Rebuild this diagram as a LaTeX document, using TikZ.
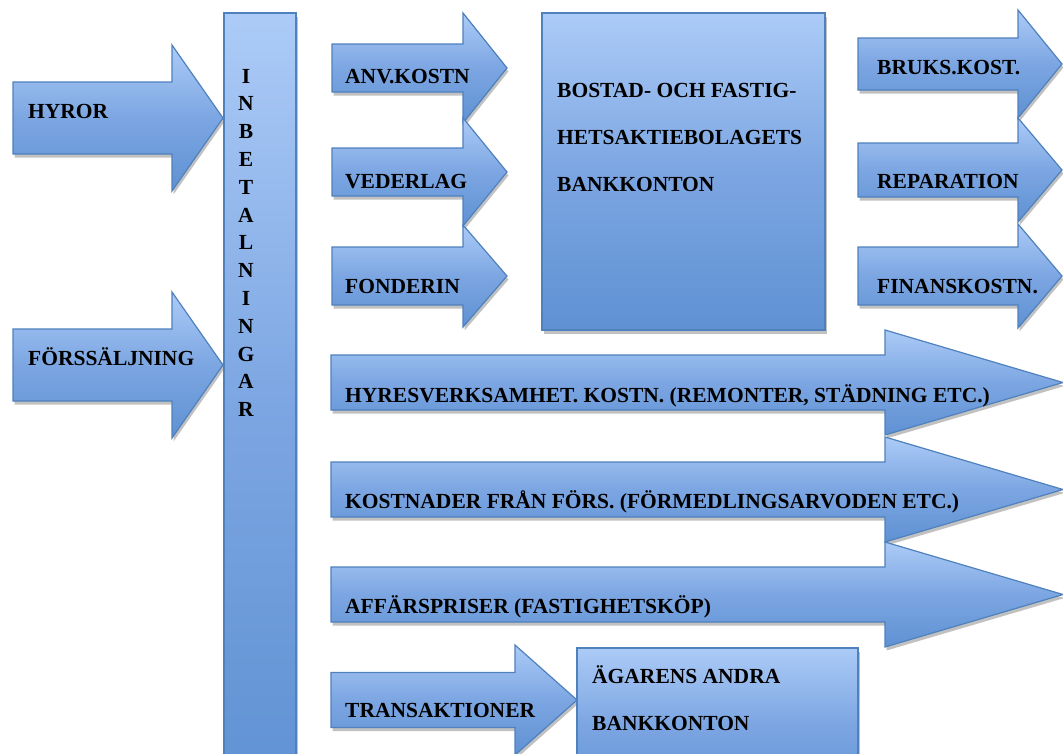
\documentclass[tikz,border=0pt]{standalone}
\usepackage{fontspec}
\setmainfont{Liberation Serif}
\usepackage{xcolor}
\usepackage{tikz}
\usetikzlibrary{shadows}

\definecolor{boxtop}{RGB}{172,203,247}
\definecolor{boxmid}{RGB}{124,166,226}
\definecolor{boxbot}{RGB}{95,145,211}
\definecolor{boxline}{RGB}{79,129,189}

\tikzset{
  blockfill/.style={draw=boxline, line width=1.2pt, line join=miter,
    top color=boxtop, bottom color=boxbot, middle color=boxmid,
    drop shadow={shadow xshift=1.5pt, shadow yshift=-3.5pt, opacity=.4, fill=black!60}},
  lbl/.style={font=\fontsize{21.5}{24}\selectfont\bfseries, inner sep=0pt, anchor=base west},
}

% block arrow: x left, x head start, x tip, y middle, half shaft, half head
\newcommand{\flowarrow}[6]{%
  \path[blockfill] (#1,#4-#5) -- (#2,#4-#5) -- (#2,#4-#6) -- (#3,#4)
    -- (#2,#4+#6) -- (#2,#4+#5) -- (#1,#4+#5) -- cycle;}

\begin{document}
\begin{tikzpicture}[x=1pt,y=-1pt]
\useasboundingbox (0,0) rectangle (1063,753);
\clip (0,0) rectangle (1063,753);
\fill[white] (0,0) rectangle (1063,753);

% incoming
\flowarrow{13}{172}{223}{118}{36}{73}
\flowarrow{13}{172}{223}{365}{36}{73}
\node[lbl] (hyror) at (28,118) {HYROR};
\node[lbl] (forss) at (28,365) {FÖRSSÄLJNING};

% column
\path[blockfill] (224,13) rectangle (296,800);
\foreach \l [count=\i] in {I,N,B,E,T,A,L,N,I,N,G,A,R}
  \node[lbl, anchor=base] (inb\i) at (246,{55.2+27.8*\i}) {\l};

% to the bank account
\flowarrow{332}{463}{507}{68}{24}{55}
\flowarrow{332}{463}{507}{172}{24}{54}
\flowarrow{332}{463}{507}{276}{29}{51}
\node[lbl] (anvkostn) at (345,83) {ANV.KOSTN};
\node[lbl] (vederlag) at (345,188) {VEDERLAG};
\node[lbl] (fonderin) at (345,293) {FONDERIN};

\path[blockfill] (542,13) rectangle (825,330);
\node[lbl] (bostad1) at (557,97) {BOSTAD- OCH FASTIG-};
\node[lbl] (bostad2) at (557,144) {HETSAKTIEBOLAGETS};
\node[lbl] (bostad3) at (557,191) {BANKKONTON};

% outgoing
\flowarrow{858}{1018}{1062}{64}{26}{54}
\flowarrow{858}{1018}{1062}{170}{27}{52}
\flowarrow{858}{1018}{1062}{276}{29}{52}
\node[lbl] (bruks) at (877,74) {BRUKS.KOST.};
\node[lbl] (reparation) at (877,188) {REPARATION};
\node[lbl] (finans) at (877,293) {FINANSKOSTN.};

\flowarrow{331}{885}{1063}{382.5}{27.5}{52.5}
\flowarrow{331}{885}{1063}{489.5}{27.5}{52.5}
\flowarrow{331}{885}{1063}{594.5}{27.5}{52.5}
\node[lbl] (hyresverk) at (345,402) {HYRESVERKSAMHET. KOSTN. (REMONTER, STÄDNING ETC.)};
\node[lbl] (kostnader) at (345,508) {KOSTNADER FRÅN FÖRS. (FÖRMEDLINGSARVODEN ETC.)};
\node[lbl] (affar) at (345,613) {AFFÄRSPRISER (FASTIGHETSKÖP)};

% owner
\flowarrow{331}{515}{577}{700}{27.5}{55}
\node[lbl] (trans) at (345,717) {TRANSAKTIONER};
\path[blockfill] (577,648) rectangle (858,800);
\node[lbl] (agarens1) at (592,683) {ÄGARENS ANDRA};
\node[lbl] (agarens2) at (592,730) {BANKKONTON};
\end{tikzpicture}
\end{document}
